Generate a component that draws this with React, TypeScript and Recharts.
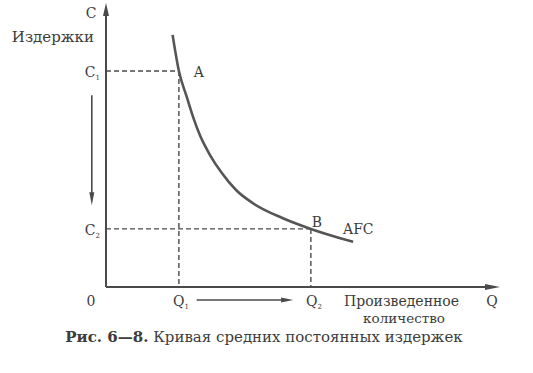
import React from "react";
import { LineChart, Line, XAxis, YAxis, ReferenceLine, ReferenceDot } from "recharts";

// Curve AFC (Q = quantity, C = average fixed cost), axes 0..100
const Q_VALUES = [16.9, 18.5, 20.5, 22.2, 23.9, 26.4, 29.4, 33.0, 37.3, 44.9, 52.0, 62.7];
const AFC_VALUES = [89.4, 76.6, 67.4, 59.9, 53.6, 46.8, 40.4, 34.4, 29.7, 24.4, 20.6, 16.0];
const Q1 = 18.5;
const C1 = 76.6;
const Q2 = 52.0;
const C2 = 20.6;
const AXIS_MAX = 100;

const data = Q_VALUES.map((q, i) => ({ q, c: AFC_VALUES[i] }));

const INK = "#4a4a4a";
const TEXT = "#3c3c3c";
const FONT = "'DejaVu Serif', serif";

const arrowShape = (len: number, half: number, width: number) => (props: any) => {
  const { x1, y1, x2, y2 } = props;
  const dx = x2 - x1;
  const dy = y2 - y1;
  const L = Math.sqrt(dx * dx + dy * dy) || 1;
  const ux = dx / L;
  const uy = dy / L;
  const bx = x2 - ux * len;
  const by = y2 - uy * len;
  const px = -uy * half;
  const py = ux * half;
  return (
    <g>
      <line x1={x1} y1={y1} x2={bx + ux * 2} y2={by + uy * 2} stroke={INK} strokeWidth={width} />
      <polygon points={`${x2},${y2} ${bx + px},${by + py} ${bx - px},${by - py}`} fill={INK} />
    </g>
  );
};

type Lab = {
  x: number;
  y: number;
  text: string;
  sub?: string;
  dx: number;
  dy: number;
  anchor: "start" | "middle" | "end";
  bold?: string;
  size?: number;
};

const LABELS: Lab[] = [
  { x: 0, y: AXIS_MAX, text: "C", dx: -15, dy: 13, anchor: "middle" },
  { x: 0, y: AXIS_MAX, text: "Издержки", dx: -12, dy: 37, anchor: "end", size: 15 },
  { x: 0, y: C1, text: "C", sub: "1", dx: -6, dy: 6, anchor: "end" },
  { x: 0, y: C2, text: "C", sub: "2", dx: -6, dy: 6, anchor: "end" },
  { x: 0, y: 0, text: "0", dx: -15, dy: 19, anchor: "middle" },
  { x: Q1, y: 0, text: "Q", sub: "1", dx: 2, dy: 19, anchor: "middle" },
  { x: Q2, y: 0, text: "Q", sub: "2", dx: 3, dy: 19, anchor: "middle" },
  { x: AXIS_MAX, y: 0, text: "Произведенное", dx: -156, dy: 19, anchor: "start" },
  { x: AXIS_MAX, y: 0, text: "Q", dx: -8, dy: 19, anchor: "middle" },
  { x: AXIS_MAX, y: 0, text: "количество", dx: -96, dy: 36, anchor: "middle", size: 13.5 },
  { x: 0, y: 0, bold: "Рис. 6—8.", text: " Кривая средних постоянных издержек", dx: 158, dy: 55, anchor: "middle", size: 15 },
  { x: Q1, y: C1, text: "A", dx: 20, dy: 6, anchor: "middle" },
  { x: Q2, y: C2, text: "B", dx: 6, dy: -2, anchor: "middle" },
  { x: Q_VALUES[Q_VALUES.length - 1], y: AFC_VALUES[AFC_VALUES.length - 1], text: "AFC", dx: -10, dy: -8, anchor: "start" },
];

const labelShape = (l: Lab) => (props: any) => {
  const { cx, cy } = props;
  return (
    <text
      x={cx + l.dx}
      y={cy + l.dy}
      textAnchor={l.anchor}
      fontFamily={FONT}
      fontSize={l.size ?? 14}
      fill={TEXT}
    >
      {l.bold ? <tspan fontWeight="bold">{l.bold}</tspan> : null}
      <tspan>{l.text}</tspan>
      {l.sub ? (
        <tspan fontSize={7} dy={3}>
          {l.sub}
        </tspan>
      ) : null}
    </text>
  );
};

export default function App() {
  return (
    <div style={{ position: "absolute", left: 0, top: 0, background: "#fff" }}>
      <LineChart
        width={533}
        height={373}
        data={data}
        margin={{ top: 5, right: 33, bottom: 86, left: 106 }}
      >
        <XAxis type="number" dataKey="q" domain={[0, AXIS_MAX]} hide allowDataOverflow />
        <YAxis type="number" domain={[0, AXIS_MAX]} hide allowDataOverflow />
        {/* dashed guides */}
        <ReferenceLine segment={[{ x: 0, y: C1 }, { x: Q1, y: C1 }]} stroke={INK} strokeWidth={1.4} strokeDasharray="5 3" ifOverflow="visible" />
        <ReferenceLine segment={[{ x: Q1, y: C1 }, { x: Q1, y: 0 }]} stroke={INK} strokeWidth={1.4} strokeDasharray="5 3" ifOverflow="visible" />
        <ReferenceLine segment={[{ x: 0, y: C2 }, { x: Q2, y: C2 }]} stroke={INK} strokeWidth={1.4} strokeDasharray="5 3" ifOverflow="visible" />
        <ReferenceLine segment={[{ x: Q2, y: C2 }, { x: Q2, y: 0 }]} stroke={INK} strokeWidth={1.4} strokeDasharray="5 3" ifOverflow="visible" />
        {/* axes with arrows */}
        <ReferenceLine segment={[{ x: 0, y: 0 }, { x: 0, y: 100.7 }]} ifOverflow="visible" shape={arrowShape(13, 3, 2)} />
        <ReferenceLine segment={[{ x: 0, y: 0 }, { x: AXIS_MAX, y: 0 }]} ifOverflow="visible" shape={arrowShape(15, 3, 2)} />
        {/* movement arrows */}
        <ReferenceLine segment={[{ x: 23, y: -4.6 }, { x: 47.5, y: -4.6 }]} ifOverflow="visible" shape={arrowShape(12, 2.5, 1.6)} />
        <ReferenceLine segment={[{ x: -3.6, y: 68 }, { x: -3.6, y: 29 }]} ifOverflow="visible" shape={arrowShape(13, 2.5, 1.6)} />
        <Line
          type="monotone"
          dataKey="c"
          stroke="#555"
          strokeWidth={2.6}
          dot={false}
          isAnimationActive={false}
        />
        {LABELS.map((l, i) => (
          <ReferenceDot key={i} x={l.x} y={l.y} r={0} ifOverflow="visible" shape={labelShape(l)} />
        ))}
      </LineChart>
    </div>
  );
}
